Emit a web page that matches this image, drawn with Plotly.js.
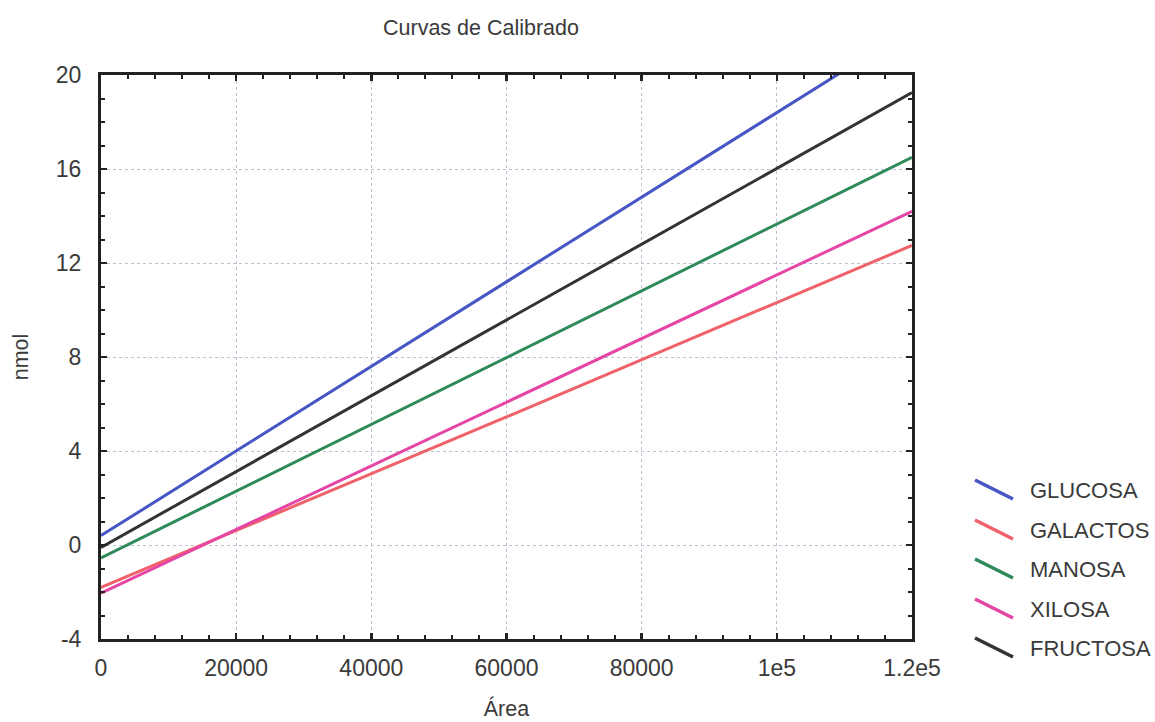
<!DOCTYPE html>
<html>
<head>
<meta charset="utf-8">
<script src="https://cdn.plot.ly/plotly-3.0.1.min.js"></script>
<style>html,body{margin:0;padding:0;background:#fff;}#chart{width:1155px;height:722px;}</style>
</head>
<body>
<div id="chart"></div>
<script>
// ---- data ----
const seriesNames = ["GLUCOSA", "GALACTOS", "MANOSA", "XILOSA", "FRUCTOSA"];
const seriesColors = ["#4656c4", "#f0626a", "#2f8a5a", "#e545a5", "#333333"];
const area = [0, 60000, 120000];
const glucosa = [0.4, 11.2, 22.0];
const galactos = [-1.8, 5.45, 12.75];
const manosa = [-0.55, 7.98, 16.5];
const xilosa = [-2.05, 6.08, 14.2];
const fructosa = [-0.1, 9.58, 19.25];
const xTickVals = [0, 20000, 40000, 60000, 80000, 100000, 120000];
const xTickText = ["0", "20000", "40000", "60000", "80000", "1e5", "1.2e5"];
const yTickVals = [-4, 0, 4, 8, 12, 16, 20];
const yTickText = ["-4", "0", "4", "8", "12", "16", "20"];

const seriesValues = [glucosa, galactos, manosa, xilosa, fructosa];

// ---- layout geometry ----
const W = 1155, H = 722;
const L = 101, R = 912, T = 75, B = 639;
const px = x => (x - L) / (R - L);
const py = y => (B - y) / (B - T);

const traces = seriesNames.map((n, i) => ({
  type: "scatter", mode: "lines", name: n,
  x: area, y: seriesValues[i],
  line: {color: seriesColors[i], width: 3},
  showlegend: false, hoverinfo: "skip"
}));

const fontFam = "Liberation Sans, Arial, sans-serif";
const txtCol = "#3a3a3a";

// custom legend with slanted line symbols
const legY = [490, 530, 569, 609, 648];
const shapes = [];
const annotations = [];
seriesNames.forEach((n, i) => {
  const yc = legY[i];
  shapes.push({
    type: "line", xref: "paper", yref: "paper",
    x0: px(975), y0: py(yc - 10), x1: px(1013), y1: py(yc + 9),
    line: {color: seriesColors[i], width: 3.5}
  });
  annotations.push({
    xref: "paper", yref: "paper", x: px(1028), y: py(yc),
    xanchor: "left", yanchor: "middle", showarrow: false,
    text: n, font: {family: fontFam, size: 22, color: txtCol}
  });
});

const layout = {
  width: W, height: H,
  margin: {l: L, r: W - R, t: T, b: H - B, pad: 0},
  paper_bgcolor: "#ffffff", plot_bgcolor: "#ffffff",
  title: {text: "Curvas de Calibrado", x: 481 / W, xanchor: "center", y: 1 - 27 / H, yanchor: "middle",
          font: {family: fontFam, size: 21.5, color: txtCol}},
  xaxis: {
    range: [0, 120000], autorange: false,
    tickvals: xTickVals, ticktext: xTickText,
    ticks: "inside", ticklen: 6, tickwidth: 2.5, tickcolor: "#222",
    minor: {dtick: 4000, ticks: "inside", ticklen: 4, tickwidth: 2, tickcolor: "#222", showgrid: false},
    showline: true, linecolor: "#222", linewidth: 3, mirror: "allticks",
    showgrid: true, gridcolor: "#bcc0d0", gridwidth: 1, griddash: "dot",
    zeroline: false, ticklabelstandoff: 6,
    tickfont: {family: fontFam, size: 23, color: txtCol},
    title: {text: "Área", font: {family: fontFam, size: 21.5, color: txtCol}, standoff: 22}
  },
  yaxis: {
    range: [-4, 20], autorange: false,
    tickvals: yTickVals, ticktext: yTickText,
    ticks: "inside", ticklen: 6, tickwidth: 2.5, tickcolor: "#222",
    minor: {dtick: 1, ticks: "inside", ticklen: 4, tickwidth: 2, tickcolor: "#222", showgrid: false},
    showline: true, linecolor: "#222", linewidth: 3, mirror: "allticks",
    showgrid: true, gridcolor: "#bcc0d0", gridwidth: 1, griddash: "dot",
    zeroline: false, ticklabelstandoff: 12,
    tickfont: {family: fontFam, size: 23, color: txtCol},
    title: {text: "nmol", font: {family: fontFam, size: 21.5, color: txtCol}, standoff: 22}
  },
  shapes: shapes,
  annotations: annotations,
  showlegend: false
};

Plotly.newPlot("chart", traces, layout, {displayModeBar: false, staticPlot: true});
</script>
</body>
</html>
